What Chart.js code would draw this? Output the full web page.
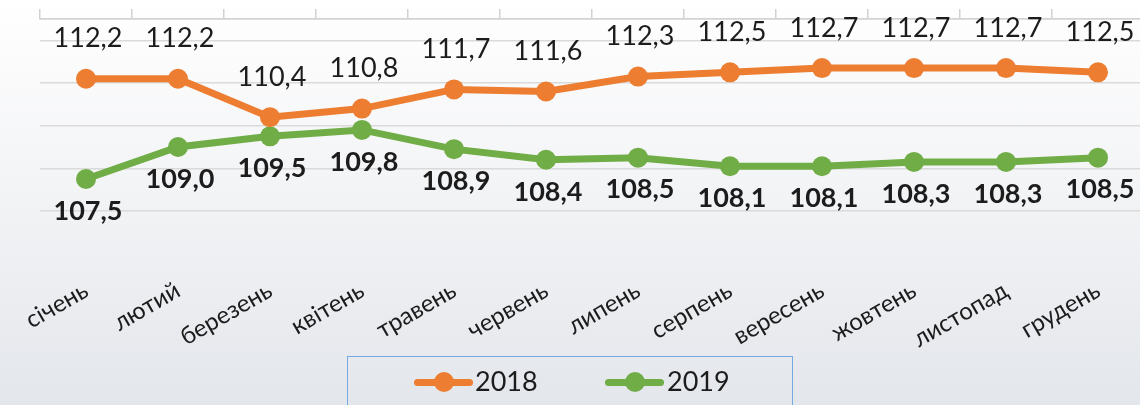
<!DOCTYPE html>
<html>
<head>
<meta charset="utf-8">
<script src="https://cdn.jsdelivr.net/npm/chart.js@4.4.1/dist/chart.umd.min.js"></script>
<style>
  html, body { margin:0; padding:0; width:1140px; height:405px; overflow:hidden; }
  body {
    position:relative;
    background:linear-gradient(to bottom, #ffffff 0%, #f2f3f5 50%, #e3e6eb 100%);
    font-family:Lato, "Open Sans", sans-serif;
  }
  #chart { position:absolute; left:0; top:0; }
  #legend-box { position:absolute; left:347px; top:356px; width:444px; height:70px; border:1.5px solid #74a9e3; }
  .lg-icon { position:absolute; width:59px; height:20px; }
  .lg-icon .line { position:absolute; left:0; top:6.5px; width:59px; height:7px; border-radius:3.5px; }
  .lg-icon .dot { position:absolute; left:19.5px; top:0; width:20px; height:20px; border-radius:50%; }
  .lg-text { position:absolute; font-size:27px; line-height:30px; color:#1c1c1c; }
</style>
</head>
<body>
<canvas id="chart" width="1154" height="405"></canvas>
<div id="legend-box"></div>
<script>
// data
const months = ['січень','лютий','березень','квітень','травень','червень','липень','серпень','вересень','жовтень','листопад','грудень'];
const values2018 = [112.2, 112.2, 110.4, 110.8, 111.7, 111.6, 112.3, 112.5, 112.7, 112.7, 112.7, 112.5];
const values2019 = [107.5, 109.0, 109.5, 109.8, 108.9, 108.4, 108.5, 108.1, 108.1, 108.3, 108.3, 108.5];
const seriesNames = ['2018', '2019'];
const seriesColors = ['#ed7d31', '#70ad47'];
const yMin = 106, yMax = 115, yStep = 2;

const FONT = 'Lato, "Open Sans", sans-serif';

// value labels: 2018 above the points, 2019 bold below
const valueLabels = {
  id: 'valueLabels',
  afterDatasetsDraw(chart) {
    const ctx = chart.ctx;
    ctx.save();
    ctx.fillStyle = '#1c1c1c';
    ctx.textAlign = 'center';
    ctx.textBaseline = 'middle';
    chart.data.datasets.forEach((ds, i) => {
      const above = i === 0;
      ctx.font = (above ? '' : 'bold ') + '27px ' + FONT;
      chart.getDatasetMeta(i).data.forEach((pt, j) => {
        const txt = ds.data[j].toFixed(1).replace('.', ',');
        ctx.fillText(txt, pt.x + 2, above ? pt.y - 40 : pt.y + 32);
      });
    });
    ctx.restore();
  }
};

const makeSet = (name, data, color) => ({
  label: name, data,
  borderColor: color, backgroundColor: color,
  borderWidth: 7, pointRadius: 10, pointHoverRadius: 10,
  pointBorderWidth: 0, tension: 0
});

new Chart(document.getElementById('chart'), {
  type: 'line',
  data: {
    labels: months,
    datasets: [
      makeSet(seriesNames[0], values2018, seriesColors[0]),
      makeSet(seriesNames[1], values2019, seriesColors[1])
    ]
  },
  options: {
    responsive: false,
    animation: false,
    layout: { padding: { top: 9, left: 40, right: 0, bottom: 0 } },
    plugins: { legend: { display: false }, tooltip: { enabled: false } },
    scales: {
      x: {
        offset: true,
        grid: { drawOnChartArea: false, tickLength: 65, color: 'rgba(0,0,0,0)' },
        border: { display: false },
        ticks: { autoSkip: false, minRotation: 30, maxRotation: 30, padding: 0,
                 color: '#1c1c1c', font: { size: 24, family: FONT } },
        afterFit: s => { s.height = 194; }
      },
      xTop: {
        type: 'category', position: 'top', offset: true,
        grid: { offset: true, drawOnChartArea: false, tickLength: 10, color: '#d2d2d2', lineWidth: 1.5 },
        border: { display: true, color: '#d2d2d2', width: 1.5 },
        ticks: { display: false }
      },
      y: {
        min: yMin, max: yMax,
        ticks: { display: false, stepSize: yStep },
        grid: { drawTicks: false, color: '#dadada', lineWidth: 1.5 },
        border: { display: false }
      }
    }
  },
  plugins: [valueLabels]
});

// legend
const legendPos = [{ icon: 414, text: 475 }, { icon: 605, text: 667 }];
seriesNames.forEach((name, i) => {
  const icon = document.createElement('div');
  icon.className = 'lg-icon';
  icon.style.left = legendPos[i].icon + 'px';
  icon.style.top = '372px';
  icon.innerHTML = `<div class="line" style="background:${seriesColors[i]}"></div><div class="dot" style="background:${seriesColors[i]}"></div>`;
  document.body.appendChild(icon);
  const txt = document.createElement('div');
  txt.className = 'lg-text';
  txt.style.left = legendPos[i].text + 'px';
  txt.style.top = '366px';
  txt.textContent = name;
  document.body.appendChild(txt);
});
</script>
</body>
</html>
